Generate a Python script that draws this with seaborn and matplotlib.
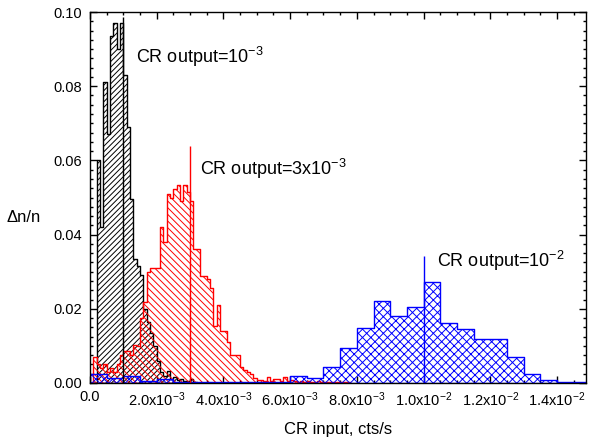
import numpy as np
import pandas as pd
import matplotlib
matplotlib.use("Agg")
import matplotlib.pyplot as plt
import seaborn as sns
from matplotlib.ticker import MultipleLocator, FixedLocator, FixedFormatter

# ---------------- data ----------------
# bin widths of the three histograms (cts/s)
black_width = 1e-4
red_width = 1e-4
blue_width = 5e-4

# histogram heights (Δn/n) per bin, bins starting at 0
black_vals = [0.0, 0.0, 0.060, 0.042, 0.081, 0.067, 0.0934, 0.097, 0.090, 0.097,
              0.083, 0.069, 0.0496, 0.0333, 0.0315, 0.0290, 0.020, 0.0165, 0.0135, 0.010,
              0.0058, 0.0030, 0.0020, 0.0033, 0.0012, 0.0017, 0.0008, 0.0010, 0.0005, 0.0005,
              0.0010, 0.0003]

red_vals = [0.0, 0.0070, 0.0050, 0.0040, 0.0050, 0.0030, 0.0040, 0.0030, 0.0050, 0.0076,
            0.0086, 0.0086, 0.0076, 0.0103, 0.0100, 0.0176, 0.0217, 0.0300, 0.0310, 0.0310,
            0.0310, 0.0420, 0.0380, 0.0510, 0.0500, 0.0523, 0.0535, 0.0490, 0.0535, 0.0515,
            0.0490, 0.0360, 0.0360, 0.0288, 0.0288, 0.0280, 0.0257, 0.0153, 0.0210, 0.0139,
            0.0139, 0.0110, 0.0076, 0.0076, 0.0076, 0.0044, 0.0035, 0.0030, 0.0025, 0.0013,
            0.0008, 0.0008, 0.0005, 0.0017, 0.0005, 0.0010, 0.0010, 0.0005, 0.0017, 0.0005,
            0.0008, 0.0005, 0.0003, 0.0005, 0.0003, 0.0005, 0.0003, 0.0003, 0.0005, 0.0003,
            0.0003, 0.0003, 0.0002, 0.0003, 0.0002, 0.0002, 0.0002, 0.0002]

blue_vals = [0.0024, 0.0013, 0.0019, 0.0005, 0.0011, 0.0003, 0.0003, 0.0002, 0.0003, 0.0002,
             0.0004, 0.0004, 0.0019, 0.0013, 0.0044, 0.0094, 0.0148, 0.0220, 0.0180, 0.0205,
             0.0272, 0.0163, 0.0145, 0.0118, 0.0118, 0.0069, 0.0024, 0.0008, 0.0003, 0.0003]

# vertical marker lines (CR output values) and their tops
line_x = [1e-3, 3e-3, 1e-2]
line_top = [0.0986, 0.0639, 0.0342]

labels = [r"CR output=10$^{-3}$", r"CR output=3x10$^{-3}$", r"CR output=10$^{-2}$"]
label_pos = [(1.38e-3, 0.0862), (3.3e-3, 0.0561), (10.41e-3, 0.0314)]

colors = ["black", "red", "blue"]
hatches = ["//////", "\\\\\\\\\\", "xxxx"]

xtick_vals = [0.0, 2e-3, 4e-3, 6e-3, 8e-3, 1e-2, 1.2e-2, 1.4e-2]
xtick_labels = ["0.0", r"2.0x10$^{-3}$", r"4.0x10$^{-3}$", r"6.0x10$^{-3}$",
                r"8.0x10$^{-3}$", r"1.0x10$^{-2}$", r"1.2x10$^{-2}$", r"1.4x10$^{-2}$"]
ytick_vals = [0.00, 0.02, 0.04, 0.06, 0.08, 0.10]
ytick_labels = ["0.00", "0.02", "0.04", "0.06", "0.08", "0.10"]

# ---------------- style ----------------
sns.set_style("ticks")
plt.rcParams["font.family"] = ["Liberation Sans", "DejaVu Sans"]
plt.rcParams["mathtext.default"] = "regular"
plt.rcParams["hatch.linewidth"] = 0.7
plt.rcParams["text.color"] = "black"
plt.rcParams["axes.labelcolor"] = "black"
plt.rcParams["xtick.color"] = "black"
plt.rcParams["ytick.color"] = "black"

fig = plt.figure(figsize=(5.89, 4.43), dpi=100)
ax = fig.add_axes([90 / 589, 60 / 443, 496 / 589, 371 / 443])


def make_frame(vals, width):
    n = len(vals)
    centers = (np.arange(n) + 0.5) * width
    edges = (np.arange(n + 1) * width).tolist()
    return pd.DataFrame({"x": centers, "w": vals}), edges


for vals, width, c, h in zip([black_vals, red_vals, blue_vals],
                             [black_width, red_width, blue_width], colors, hatches):
    df, edges = make_frame(vals, width)
    sns.histplot(data=df, x="x", weights="w", bins=edges, element="step", fill=True,
                 color=c, facecolor="none", edgecolor=c, hatch=h, linewidth=1.0, ax=ax)

for lx, lt, c in zip(line_x, line_top, colors):
    ax.vlines(lx, 0, lt, color=c, linewidth=1.0)

for txt, (tx, ty) in zip(labels, label_pos):
    ax.text(tx, ty, txt, fontsize=13, ha="left", va="baseline", color="black")

ax.set_xlim(0, 0.01487)
ax.set_ylim(0, 0.10)

ax.xaxis.set_major_locator(FixedLocator(xtick_vals))
ax.xaxis.set_major_formatter(FixedFormatter(xtick_labels))
ax.xaxis.set_minor_locator(MultipleLocator(5e-4))
ax.yaxis.set_major_locator(FixedLocator(ytick_vals))
ax.yaxis.set_major_formatter(FixedFormatter(ytick_labels))
ax.yaxis.set_minor_locator(MultipleLocator(0.0025))

ax.tick_params(which="both", direction="in", top=True, right=True, colors="black",
               labelcolor="black", labelsize=10.5)
ax.tick_params(which="major", length=5, width=1)
ax.tick_params(which="minor", length=2.5, width=1)
ax.tick_params(axis="x", which="major", pad=5)
ax.tick_params(axis="y", which="major", pad=6)

for sp in ax.spines.values():
    sp.set_visible(True)
    sp.set_linewidth(1.0)
    sp.set_color("black")

ax.set_xlabel("CR input, cts/s", fontsize=12, labelpad=10, color="black")
ax.set_ylabel("Δn/n", fontsize=12, rotation=0, ha="center", va="center", color="black")
ax.yaxis.set_label_coords(-0.134, 0.447)

fig.savefig("out.png", dpi=100)
